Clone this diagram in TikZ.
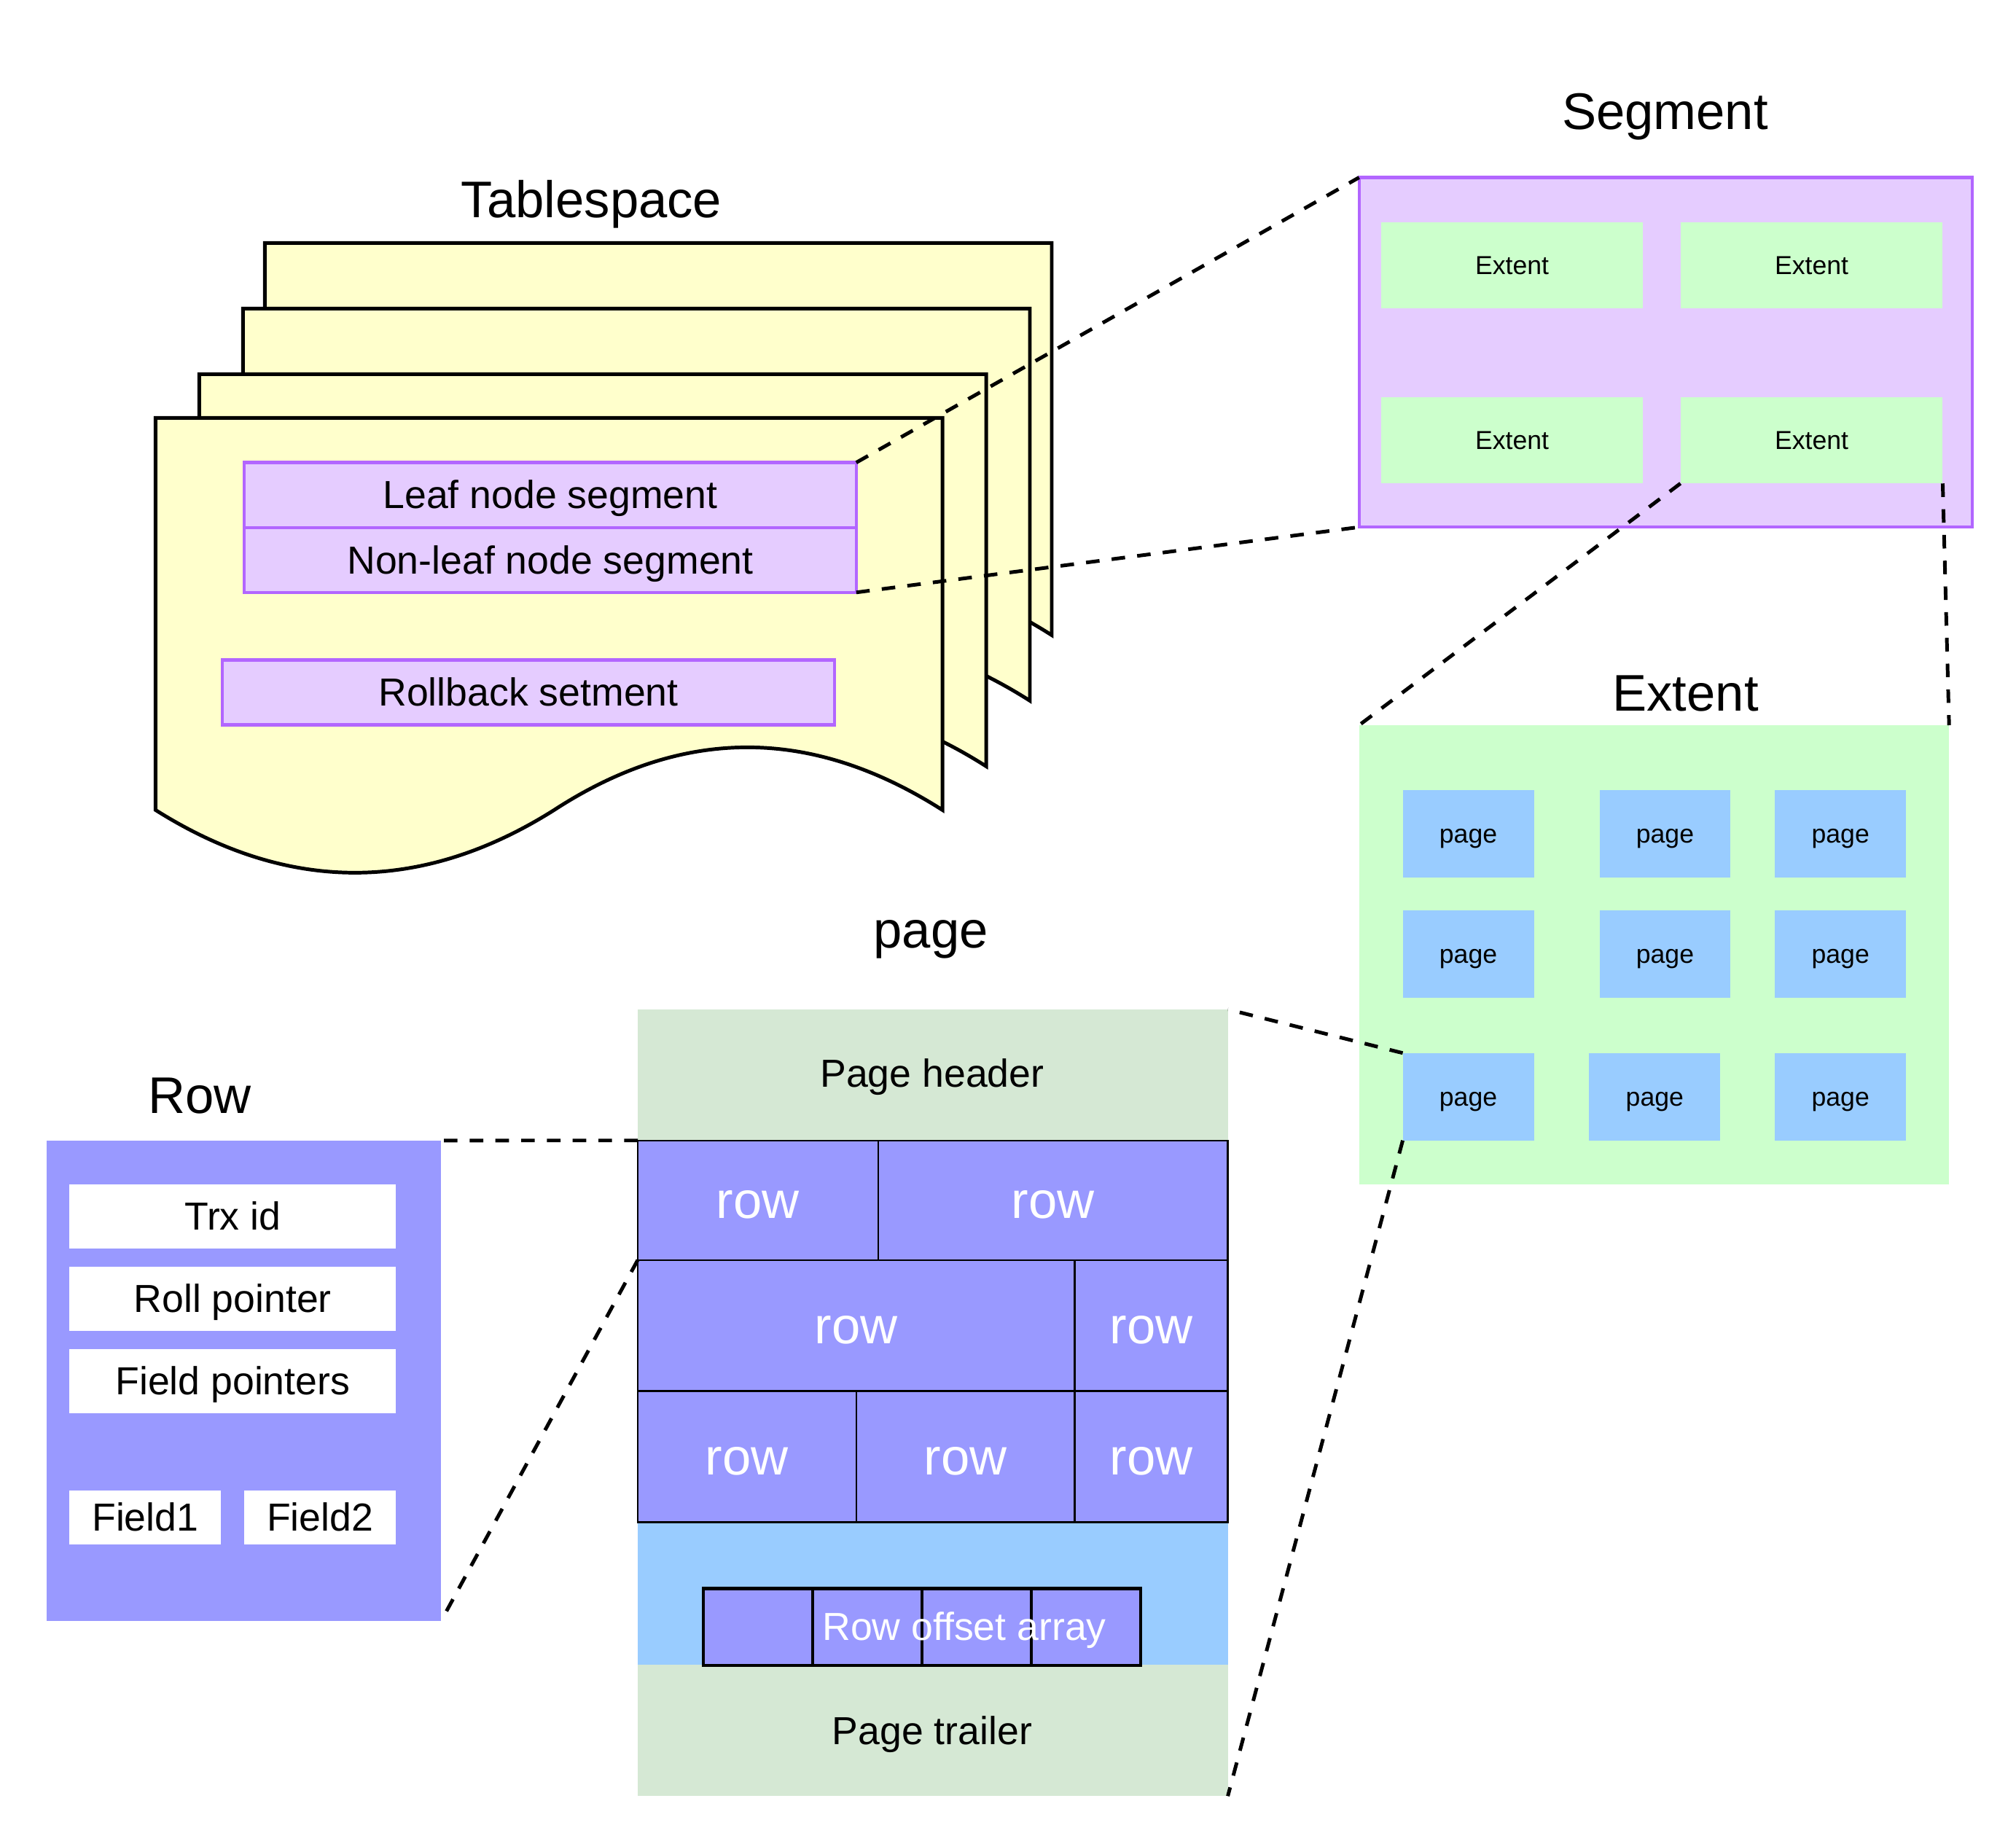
\documentclass[tikz,border=0pt]{standalone}
\usepackage{fontspec}
\setmainfont{Liberation Sans}
\usetikzlibrary{positioning}

\definecolor{tblyellow}{HTML}{FFFFCC}
\definecolor{segfill}{HTML}{E5CCFF}
\definecolor{segline}{HTML}{B266FF}
\definecolor{extgreen}{HTML}{CCFFCC}
\definecolor{pgblue}{HTML}{99CCFF}
\definecolor{rowblue}{HTML}{9999FF}
\definecolor{hdrgreen}{HTML}{D5E8D4}

\newcommand{\titlefont}{\fontsize{22.8}{27}\selectfont}
\newcommand{\bodyfont}{\fontsize{17.3}{21}\selectfont}
\newcommand{\smallfont}{\fontsize{11.5}{14}\selectfont}

\begin{document}
\begin{tikzpicture}[x=0.02cm, y=-0.02cm,
    bigtext/.style={font=\titlefont, text height=20.5pt, text depth=4.6pt},
    bodytext/.style={font=\bodyfont, text height=15.6pt, text depth=3.5pt},
    smalltext/.style={font=\smallfont, text height=10.4pt, text depth=2.3pt},
    blk/.style={rectangle, inner sep=0pt, outer sep=0pt},
    heading/.style={anchor=base, font=\titlefont},
    sheet/.style={draw=black, line width=1.6pt, fill=tblyellow},
    seg/.style={blk, draw=segline, line width=1.4pt, fill=segfill, bodytext,
        minimum width=9.52cm, minimum height=1.01cm},
    ext/.style={blk, fill=extgreen, smalltext, minimum width=4.08cm, minimum height=1.34cm},
    pg/.style={blk, fill=pgblue, smalltext, minimum width=2.04cm, minimum height=1.36cm},
    rowcell/.style={blk, draw=black, line width=0.8pt, fill=rowblue, text=white, bigtext},
    offcell/.style={blk, draw=black, line width=1.4pt, fill=rowblue, minimum width=1.7cm, minimum height=1.2cm},
    field/.style={blk, fill=white, bodytext, minimum height=1cm},
    zoomline/.style={line width=1.6pt, dash pattern=on 6pt off 5.4pt}]
   \useasboundingbox (0,0) rectangle (1568,1434);

   % tablespace sheets, back to front
   \foreach \dx/\dy in {85/-136, 68/-85, 34/-34, 0/0}
     \draw[sheet, shift={(\dx,\dy)}] (121,325) -- (733,325) -- (733,630)
        .. controls (631,565) and (531,565) .. (431,630)
        .. controls (328,695) and (224,695) .. (121,630) -- cycle;

   \node[heading] (ttable)   at (460,169)   {Tablespace};
   \node[heading] (tsegment) at (1295,100.5) {Segment};
   \node[heading] (textent)  at (1311,553)  {Extent};
   \node[heading] (tpage)    at (724,737)   {page};
   \node[heading] (trow)     at (155.5,866) {Row};

   \node[seg] (leaf)     at (428,385)   {Leaf node segment};
   \node[seg] (nonleaf)  at (428,435.5) {Non-leaf node segment};
   \node[seg] (rollback) at (411,538.5) {Rollback setment};

   % segment
   \node[blk, draw=segline, line width=1.4pt, fill=segfill,
         minimum width=9.54cm, minimum height=5.44cm] (segment) at (1295.5,274) {};
   \foreach \x/\y [count=\i] in {1176/206.5, 1409/206.5, 1176/342.5, 1409/342.5}
     \node[ext] (ext\i) at (\x,\y) {Extent};

   % extent
   \node[blk, fill=extgreen, minimum width=9.18cm, minimum height=7.14cm] (extent) at (1286.5,742.5) {};
   \foreach \x/\y [count=\i] in {1142/648.5, 1295/648.5, 1431.5/648.5,
                                 1142/742, 1295/742, 1431.5/742,
                                 1142/853, 1287/853, 1431.5/853}
     \node[pg] (pg\i) at (\x,\y) {page};

   % page
   \node[blk, fill=hdrgreen, minimum width=9.18cm, minimum height=12.24cm] (page) at (725.5,1091) {};
   \node[blk, fill=pgblue, minimum width=9.18cm, minimum height=2.22cm] (free) at (725.5,1239.5) {};
   \node[bodytext] (header)  at (725,835)  {Page header};
   \node[bodytext] (trailer) at (725,1346) {Page trailer};
   \foreach \x/\y/\w/\h [count=\i] in {589.5/933.5/3.74/1.86, 819/933.5/5.44/1.86,
                                       666/1031/6.8/2.04, 895.5/1031/2.38/2.04,
                                       581/1133/3.4/2.04, 751/1133/3.4/2.04, 895.5/1133/2.38/2.04}
     \node[rowcell, minimum width=\w cm, minimum height=\h cm] (r\i) at (\x,\y) {row};
   \foreach \x [count=\i] in {589.5, 674.5, 759.5, 844.5}
     \node[offcell] (off\i) at (\x,1265.5) {};
   \node[bodytext, text=white] (offlabel) at (750,1265) {Row offset array};

   % row
   \node[blk, fill=rowblue, minimum width=6.14cm, minimum height=7.48cm] (row) at (189.5,1074) {};
   \node[field, minimum width=5.08cm] (trx)  at (181,946)  {Trx id};
   \node[field, minimum width=5.08cm] (roll) at (181,1010) {Roll pointer};
   \node[field, minimum width=5.08cm] (fptr) at (181,1074) {Field pointers};
   \node[field, minimum width=2.36cm, minimum height=0.84cm] (field1) at (113,1180) {Field1};
   \node[field, minimum width=2.36cm, minimum height=0.84cm] (field2) at (249,1180) {Field2};

   % zoom lines
   \draw[zoomline] (leaf.north east) -- (segment.north west);
   \draw[zoomline] (nonleaf.south east) -- (segment.south west);
   \draw[zoomline] (ext4.south west) -- (extent.north west);
   \draw[zoomline] (ext4.south east) -- (extent.north east);
   \draw[zoomline] (pg7.north west) -- (page.north east);
   \draw[zoomline] (pg7.south west) -- (page.south east);
   \draw[zoomline] (r1.north west) -- (row.north east);
   \draw[zoomline] (r1.south west) -- (row.south east);
\end{tikzpicture}
\end{document}
